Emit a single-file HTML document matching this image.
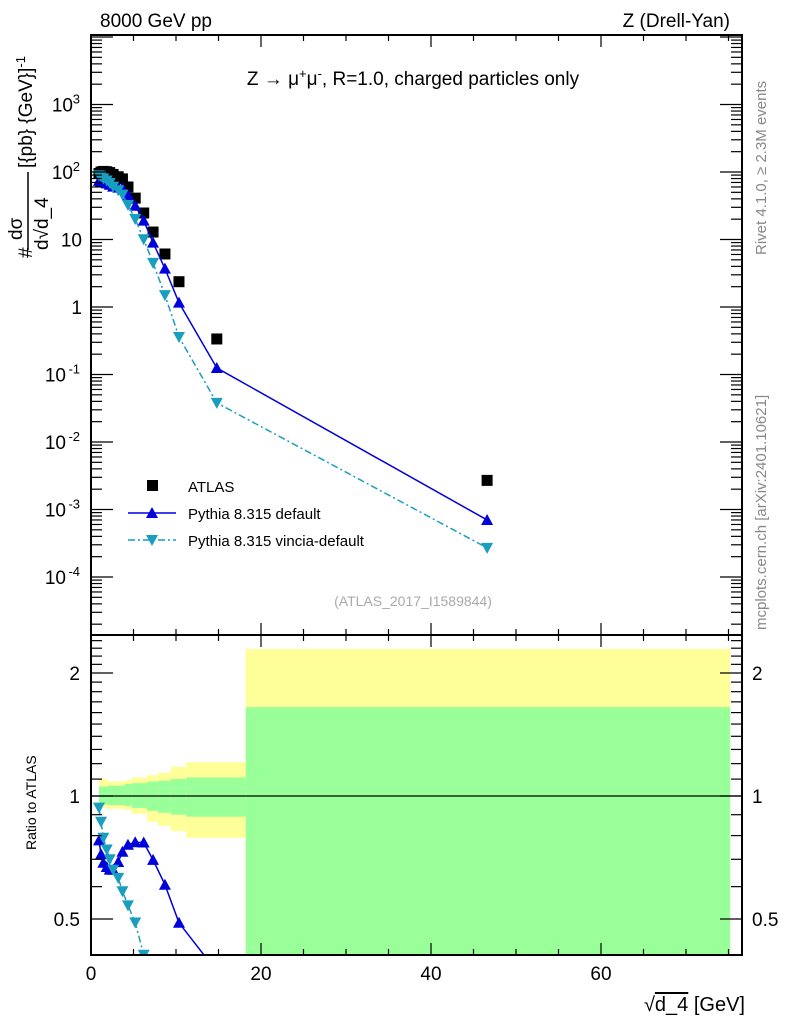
<!DOCTYPE html>
<html><head><meta charset="utf-8"><style>
html,body{margin:0;background:#fff;overflow:hidden;width:786px;height:1024px}
svg{display:block;font-family:"Liberation Sans",sans-serif}
</style></head><body>
<svg id="c" width="786" height="1024" viewBox="0 0 786 1024">
<defs>
<clipPath id="cm"><rect x="91" y="35" width="651" height="600"/></clipPath>
<clipPath id="cr"><rect x="91" y="635" width="651" height="320"/></clipPath>
</defs>
<g id="bands" clip-path="url(#cr)"></g>
<g id="marks"></g>
<rect x="91" y="35" width="651" height="920" fill="none" stroke="#000" stroke-width="2"/>
<line x1="91" y1="635" x2="742" y2="635" stroke="#000" stroke-width="2"/>
<g id="ticks"></g>
<text x="100" y="27" font-size="19">8000 GeV pp</text>
<text x="730" y="27" font-size="19" text-anchor="end">Z (Drell-Yan)</text>
<text x="413" y="85" font-size="19" text-anchor="middle">Z → μ<tspan dy="-7" font-size="13">+</tspan><tspan dy="7">μ</tspan><tspan dy="-7" font-size="13">-</tspan><tspan dy="7">, R=1.0, charged particles only</tspan></text>
<text x="413" y="606" font-size="14" fill="#aaa" text-anchor="middle">(ATLAS_2017_I1589844)</text>
<text transform="translate(766,255) rotate(-90)" font-size="15" fill="#888">Rivet 4.1.0, ≥ 2.3M events</text>
<text transform="translate(766,630) rotate(-90)" font-size="15" fill="#888">mcplots.cern.ch [arXiv:2401.10621]</text>
<g>
<text transform="translate(32,258) rotate(-90)" font-size="19">#</text>
<text transform="translate(22,240) rotate(-90)" font-size="19">dσ</text>
<line x1="28" y1="250" x2="28" y2="172" stroke="#000" stroke-width="1.5"/>
<text transform="translate(48,250) rotate(-90)" font-size="19">d√d_4</text>
<text transform="translate(32,168) rotate(-90)" font-size="19">[{pb} {GeV}]<tspan dy="-7" font-size="13">-1</tspan></text>
</g>
<text transform="translate(36,850) rotate(-90)" font-size="14">Ratio to ATLAS</text>
<text x="745" y="1011" font-size="20" text-anchor="end">√<tspan text-decoration="overline">d_4</tspan> [GeV]</text>
<g id="legend">
<rect x="147" y="480" width="11" height="11" fill="#000"/>
<text x="188" y="492" font-size="15">ATLAS</text>
<line x1="128" y1="513" x2="176" y2="513" stroke="#0000dd" stroke-width="1.5"/>
<polygon points="152,507 146,518 158,518" fill="#0000dd"/>
<text x="188" y="519" font-size="15">Pythia 8.315 default</text>
<line x1="128" y1="540" x2="176" y2="540" stroke="#1a9ec0" stroke-width="1.5" stroke-dasharray="7,3,2,3"/>
<polygon points="146,535 158,535 152,546" fill="#1a9ec0"/>
<text x="188" y="546" font-size="15">Pythia 8.315 vincia-default</text>
</g>
</svg>
<script>
const xs=[0.94,1.18,1.45,1.85,2.2,2.6,3.2,3.7,4.35,5.2,6.2,7.3,8.7,10.35,14.8,46.6];
const atlas=[95,100,102,101,98,92,85,79,60,41,24.7,12.9,6.1,2.37,0.336,0.0027];
const pyDefault=[74,72,70,67.7,64.7,60.7,58.6,57.7,45.6,31.6,19,9.0,3.7,1.16,0.125,0.0007];
const pyVincia=[89,86.5,80.6,74.7,68.6,60.7,53.6,46.2,32.4,20.1,10.1,4.5,1.5,0.36,0.038,0.00027];
const bandEdges=[0.94,2.0,4.0,4.8,6.6,7.9,9.4,11.2,18.2,75.2];
const yellowUp=[1.10,1.085,1.095,1.11,1.125,1.14,1.18,1.21,2.29];
const yellowDn=[0.935,0.93,0.925,0.905,0.865,0.845,0.82,0.79,0.3];
const greenUp=[1.055,1.06,1.07,1.075,1.085,1.09,1.1,1.11,1.65];
const greenDn=[0.955,0.95,0.945,0.935,0.92,0.91,0.9,0.89,0.3];
const xTicksMajor=[0,20,40,60];
const mainTickLabels=[["10","3",1000],["10","2",100],["10","",10],["1","",1],["10","-1",0.1],["10","-2",0.01],["10","-3",0.001],["10","-4",0.0001]];
const ratioTickLabels=[2,1,0.5];

const NS="http://www.w3.org/2000/svg";
const X=v=>91+8.5*v;
const Ym=v=>307-67.5*Math.log10(v);
const Yr=r=>796-408.6*Math.log10(r);
function mk(tag,attrs,parent){const e=document.createElementNS(NS,tag);for(const k in attrs)e.setAttribute(k,attrs[k]);parent.appendChild(e);return e;}
const bands=document.getElementById('bands'),marks=document.getElementById('marks'),ticks=document.getElementById('ticks');
for(let i=0;i<bandEdges.length-1;i++){
 const x1=X(bandEdges[i]),w=X(bandEdges[i+1])-x1;
 let y=mk('rect',{x:x1,y:Yr(yellowUp[i]),width:w,height:Yr(yellowDn[i])-Yr(yellowUp[i]),fill:'#ffff99'},bands);
 
 
 let g=mk('rect',{x:x1,y:Yr(greenUp[i]),width:w,height:Yr(greenDn[i])-Yr(greenUp[i]),fill:'#99ff99'},bands);
 
 
}
mk('line',{x1:91,y1:796,x2:742,y2:796,stroke:'#000','stroke-width':1.3},bands);
const gm=mk('g',{'clip-path':'url(#cm)'},marks);
const gr=mk('g',{'clip-path':'url(#cr)'},marks);
function series(vals,color,dash,down,name){
 const pm=xs.map((x,i)=>X(x)+','+Ym(vals[i])).join(' ');
 let l=mk('polyline',{points:pm,fill:'none',stroke:color,'stroke-width':1.5,'stroke-dasharray':dash},gm);
 
 
 const pr=xs.map((x,i)=>X(x)+','+Yr(vals[i]/atlas[i])).join(' ');
 let lr=mk('polyline',{points:pr,fill:'none',stroke:color,'stroke-width':1.5,'stroke-dasharray':dash},gr);
 
 
 xs.forEach((x,i)=>{
  [[gm,Ym(vals[i])],[gr,Yr(vals[i]/atlas[i])]].forEach(([p,y])=>{
   const cx=X(x);
   const pts=down?`${cx-6},${y-5} ${cx+6},${y-5} ${cx},${y+6}`:`${cx},${y-6} ${cx-6},${y+5} ${cx+6},${y+5}`;
   let t=mk('polygon',{points:pts,fill:color},p);
   
   
  });
 });
}
xs.forEach((x,i)=>{
 let s=mk('rect',{x:X(x)-5.5,y:Ym(atlas[i])-5.5,width:11,height:11,fill:'#000'},gm);
 
 
});
series(pyDefault,'#0000dd','none',false,'pythia-default');
series(pyVincia,'#1a9ec0','7,3,2,3',true,'pythia-vincia');
function tk(x1,y1,x2,y2){mk('line',{x1,y1,x2,y2,stroke:'#000','stroke-width':1.2},ticks);}
for(let v=0;v<=76;v+=5){const x=X(v),L=v%20==0?12:6;
 tk(x,955,x,955-L);tk(x,635,x,635-L);tk(x,35,x,35+L);tk(x,635,x,635+L);}
xTicksMajor.forEach(v=>{let t=mk('text',{x:X(v),y:980,'font-size':19,'text-anchor':'middle'},ticks);t.textContent=v;
 });
for(let e=-5;e<=4;e++)for(let m=1;m<10;m++){const v=m*Math.pow(10,e),y=Ym(v);if(y<36||y>634)continue;const L=m==1?22:11;
 tk(91,y,91+L,y);tk(742,y,742-L,y);}
mainTickLabels.forEach(([b,ex,v])=>{const y=Ym(v)+7;let t=mk('text',{x:ex?80-ex.length*7:82,y,'font-size':19,'text-anchor':'end'},ticks);t.textContent=b;
 
 if(ex){let s=mk('text',{x:80,y:y-8,'font-size':13,'text-anchor':'end'},ticks);s.textContent=ex;}});
for(let r=0.5;r<=2.45;r+=0.1){const y=Yr(r);if(y<636||y>954)continue;const M=Math.abs(r-1)<0.01||Math.abs(r-2)<0.01||Math.abs(r-0.5)<0.01;const L=M?22:11;
 tk(91,y,91+L,y);tk(742,y,742-L,y);}
ratioTickLabels.forEach(r=>{const y=Yr(r)+7;
 let t=mk('text',{x:80,y,'font-size':19,'text-anchor':'end'},ticks);t.textContent=r;
 
 let t2=mk('text',{x:752,y,'font-size':19},ticks);t2.textContent=r;
 });
</script>
</body></html>
